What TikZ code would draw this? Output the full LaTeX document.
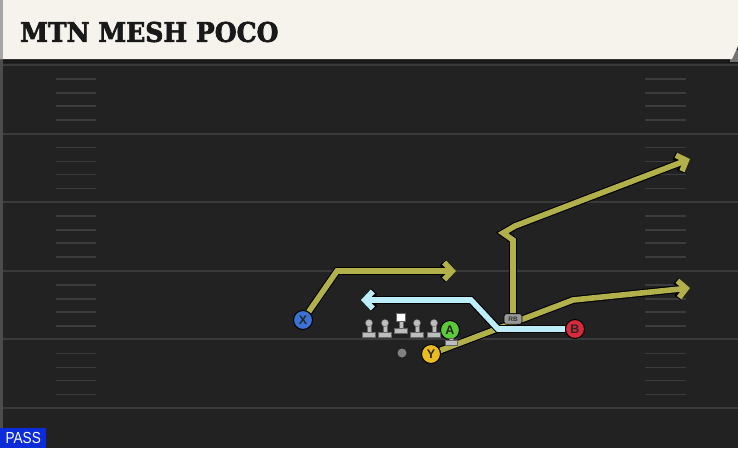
\documentclass[tikz,border=0pt]{standalone}
\usepackage{fontspec}
\setmainfont{DejaVu Serif}
\setsansfont{Liberation Sans}
\newfontfamily\titlefont{DejaVu Serif}[BoldFeatures={FakeBold=2.5}]
\usetikzlibrary{arrows.meta}
\pgfdeclarelayer{bg}\pgfdeclarelayer{routes}
\pgfsetlayers{bg,routes,main}
\definecolor{fieldbg}{HTML}{222222}
\definecolor{yardc}{HTML}{3A3A3A}
\definecolor{hashc}{HTML}{3C3C3C}
\definecolor{headerc}{HTML}{F5F3EC}
\definecolor{olivec}{HTML}{B2B04B}
\definecolor{bluec}{HTML}{BDEDF8}
\definecolor{xblue}{HTML}{3B72D4}
\definecolor{agreen}{HTML}{5CCB3A}
\definecolor{yyellow}{HTML}{EBBB22}
\definecolor{bred}{HTML}{D9293A}
\definecolor{passblue}{HTML}{0B2CD8}
\definecolor{linec}{HTML}{BDBDBD}
\begin{document}
\begin{tikzpicture}[x=1pt,y=-1pt,
  player/.style={circle, draw=black, line width=1pt, minimum size=19pt, inner sep=0pt,
    font=\sffamily\bfseries\fontsize{12.5}{12.5}\selectfont, text=black!85},
  yardline/.style={draw=yardc, line width=2pt},
  hashmark/.style={draw=hashc, line width=1.5pt},
  routeo/.style={draw=black, line width=7.8pt, -{Straight Barb[length=8pt,width=17pt]}},
  routec/.style={draw=#1, line width=5.6pt, -{Straight Barb[length=8pt,width=17pt]}},
  lineman/.style={fill=linec, draw=black!60, line width=0.4pt}]
\useasboundingbox (0,0) rectangle (738,448);
% ---------- field ----------
\begin{pgfonlayer}{bg}
\fill[fieldbg] (0,0) rectangle (738,448);
\fill[black!90!white] (0,59) rectangle (738,63);
\fill[black!70] (0,59) rectangle (2.5,448);
\foreach \b in {65,133.6,202.2,270.8,339.4,408}
  \draw[yardline] (2.5,\b) -- (738,\b);
\foreach \b in {65,133.6,202.2,270.8,339.4}
  \foreach \o in {14,28,41,55} {
    \draw[hashmark] (56,\b+\o) -- (96,\b+\o);
    \draw[hashmark] (645,\b+\o) -- (686,\b+\o);
  }
% header
\fill[black!55] (730,50) -- (738,50) -- (738,62) -- (730,62) -- cycle;
\fill[headerc] (0,0) -- (738,0) -- (738,46) -- (732,59) -- (0,59) -- cycle;
\fill[black!35] (0,0) rectangle (2.5,59);
\end{pgfonlayer}
\node[anchor=west, inner sep=0pt, text=black!90, font=\titlefont\fontsize{27}{27}\selectfont\bfseries] (title) at (20,32) {\scalebox{0.93}[1]{MTN MESH POCO}};
\node[fill=passblue, text=white, anchor=south west, minimum width=46pt, minimum height=20pt, inner sep=0pt,
  font=\sffamily\fontsize{16}{16}\selectfont] (pass) at (0,448) {\scalebox{0.85}[1]{PASS}};
% ---------- players ----------
\node[player, fill=xblue] (X) at (303,320) {X};
\node[player, fill=agreen] (A) at (450,330) {A};
\node[player, fill=yyellow] (Y) at (431,354) {Y};
\node[player, fill=bred] (B) at (575,329) {B};
\node[fill=black!40, draw=black, line width=0.6pt, rounded corners=2.5pt, minimum width=18pt, minimum height=10.5pt,
  inner sep=0pt, font=\sffamily\bfseries\fontsize{6.5}{6.5}\selectfont, text=black!80] (RB) at (513,319) {RB};
\node[circle, fill=black!50, minimum size=9pt, inner sep=0pt] (QB) at (402,353) {};
% linemen
\foreach \x in {369,385,417,434} {
  \fill[lineman] (\x-2.2,324) rectangle (\x+2.2,333);
  \fill[lineman] (\x-6.5,332) rectangle (\x+6.5,337.5);
  \fill[lineman] (\x,323) circle (3.6);
}
\fill[lineman] (398.8,321) rectangle (403.2,329);
\fill[lineman] (394.5,328) rectangle (407.5,333);
\fill[white, draw=black!60, line width=0.4pt] (396.5,313.5) rectangle (405.5,321.5);
% A stance block
\fill[lineman] (449,338) rectangle (453,341);
\fill[lineman] (445.5,340.5) rectangle (457,345.5);
% ---------- route waypoints ----------
\coordinate (x1) at (337,271);
\coordinate (x2) at (456,271);
\coordinate (b1) at (498,329);
\coordinate (b2) at (471,300);
\coordinate (b3) at (361,300);
\coordinate (r1) at (513,240);
\coordinate (r2) at (503,233);
\coordinate (r3) at (515,226);
\coordinate (r4) at (690,159);
\coordinate (y1) at (573,300);
\coordinate (y2) at (690,288);
\begin{pgfonlayer}{routes}
\foreach \s/\c in {routeo/black, routec/olivec} {
  \draw[\s=\c] (X) -- (x1) -- (x2);
  \draw[\s=\c] (RB) -- (r1) -- (r2) -- (r3) -- (r4);
  \draw[\s=\c] (Y) -- (y1) -- (y2);
}
\draw[routeo] (B) -- (b1) -- (b2) -- (b3);
\draw[routec=bluec] (B) -- (b1) -- (b2) -- (b3);
\end{pgfonlayer}
\end{tikzpicture}
\end{document}
